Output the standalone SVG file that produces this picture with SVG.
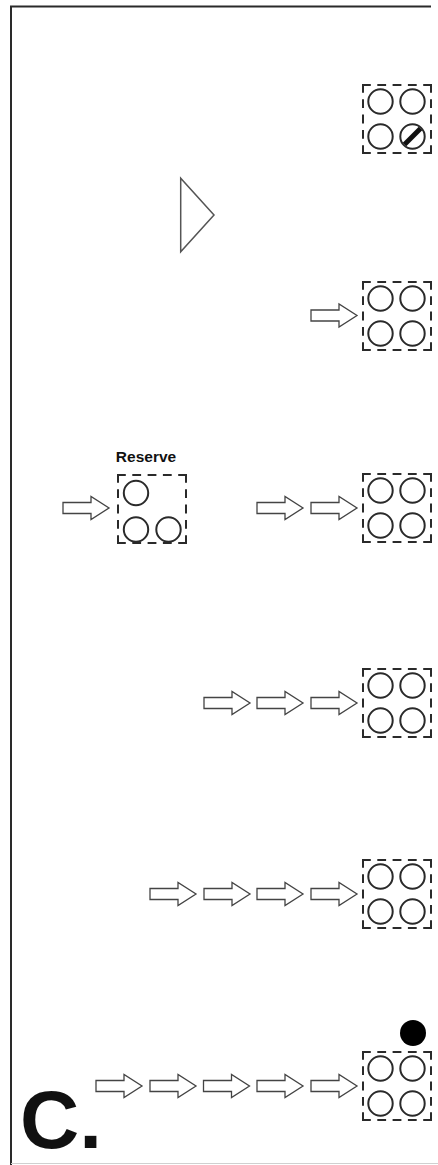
<svg xmlns="http://www.w3.org/2000/svg" xmlns:xlink="http://www.w3.org/1999/xlink" width="438" height="1165" viewBox="0 0 438 1165">
  <style>
    .frame { fill: none; stroke: #2a2a2a; stroke-width: 2; stroke-dasharray: 6.8 8.5; stroke-linecap: square; }
    .hole { fill: none; stroke: #2a2a2a; stroke-width: 2; }
    .arrow { fill: #fff; stroke: #444; stroke-width: 1.3; stroke-linejoin: miter; }
    .border { fill: none; stroke: #2a2a2a; stroke-width: 2; }
    .label { font-family: "Liberation Sans", Arial, sans-serif; font-weight: bold; fill: #111; }
  </style>
  <defs>
    <path id="frame" class="frame" d="M0,0 H68 M68,0 V68 M68,68 H0 M0,68 V0"/>
    <circle id="hole" class="hole" r="12.2"/>
    <path id="arr" class="arrow" d="M0,-5.5 H28 V-11.5 L46,0 L28,11.5 V5.5 H0 Z"/>
    <g id="fourHoles">
      <use xlink:href="#frame"/>
      <use xlink:href="#hole" x="17.5" y="16.5"/>
      <use xlink:href="#hole" x="49.5" y="16.5"/>
      <use xlink:href="#hole" x="17.5" y="51.5"/>
      <use xlink:href="#hole" x="49.5" y="51.5"/>
    </g>
  </defs>

  <g id="border">
    <path class="border" d="M11,1165 V6.5 H431"/>
    <path d="M11,1163.5 H438" fill="none" stroke="#d0d0d0" stroke-width="1"/>
  </g>

  <g id="play-triangle">
    <path d="M180.7,178.3 V251.7 L214,215 Z" fill="#fff" stroke="#555" stroke-width="1.5" stroke-linejoin="miter"/>
  </g>

  <g id="box1" transform="translate(363,85)">
    <use xlink:href="#frame"/>
    <use xlink:href="#hole" x="17.5" y="16.5"/>
    <use xlink:href="#hole" x="49.5" y="16.5"/>
    <use xlink:href="#hole" x="17.5" y="51.5"/>
    <use xlink:href="#hole" x="49.5" y="51.5"/>
    <line x1="41.5" y1="59.5" x2="57.5" y2="43.5" stroke="#111" stroke-width="5"/>
  </g>

  <g id="box2" transform="translate(363,282)">
    <use xlink:href="#fourHoles"/>
  </g>

  <g id="reserve" transform="translate(118,475)">
    <text class="label" x="28" y="-13" font-size="15.5" text-anchor="middle">Reserve</text>
    <use xlink:href="#frame"/>
    <use xlink:href="#hole" x="18" y="18"/>
    <use xlink:href="#hole" x="18" y="54.5"/>
    <use xlink:href="#hole" x="50.5" y="54.5"/>
  </g>

  <g id="box3" transform="translate(363,474)">
    <use xlink:href="#fourHoles"/>
  </g>

  <g id="box4" transform="translate(363,669)">
    <use xlink:href="#fourHoles"/>
  </g>

  <g id="box5" transform="translate(363,860)">
    <use xlink:href="#fourHoles"/>
  </g>

  <g id="box6" transform="translate(363,1052)">
    <use xlink:href="#fourHoles"/>
    <circle cx="50" cy="-19" r="13" fill="#000"/>
  </g>

  <g id="connectors">
    <use xlink:href="#arr" x="311" y="315.5"/>

    <use xlink:href="#arr" x="63" y="508"/>
    <use xlink:href="#arr" x="257" y="508"/>
    <use xlink:href="#arr" x="311" y="508"/>

    <use xlink:href="#arr" x="204" y="703"/>
    <use xlink:href="#arr" x="257" y="703"/>
    <use xlink:href="#arr" x="311" y="703"/>

    <use xlink:href="#arr" x="150" y="894"/>
    <use xlink:href="#arr" x="204" y="894"/>
    <use xlink:href="#arr" x="257" y="894"/>
    <use xlink:href="#arr" x="311" y="894"/>

    <use xlink:href="#arr" x="96" y="1086"/>
    <use xlink:href="#arr" x="150" y="1086"/>
    <use xlink:href="#arr" x="203.5" y="1086"/>
    <use xlink:href="#arr" x="257" y="1086"/>
    <use xlink:href="#arr" x="311" y="1086"/>
  </g>

  <g id="panel-label">
    <text class="label" x="20" y="1147.5" font-size="82" fill="#000">C.</text>
  </g>
</svg>
